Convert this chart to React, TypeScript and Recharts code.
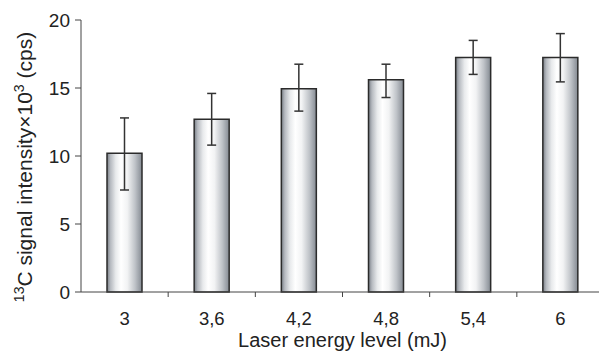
import { BarChart, Bar, XAxis, YAxis, ErrorBar } from 'recharts'

const energies = ['3', '3,6', '4,2', '4,8', '5,4', '6']
const intensity = [10.2, 12.7, 14.95, 15.6, 17.25, 17.25]
const lowerBound = [7.5, 10.8, 13.3, 14.3, 16.0, 15.45]
const upperBound = [12.8, 14.6, 16.75, 16.75, 18.5, 19.0]
const yTicks = [0, 5, 10, 15, 20]

const data = energies.map((energy, i) => ({
  energy,
  intensity: intensity[i],
  err: [intensity[i] - lowerBound[i], upperBound[i] - intensity[i]],
}))

const FONT = 'Liberation Sans, Arial, Helvetica, sans-serif'
const AXIS = '#444'
const TEXT = '#222'
const X_TICK_GAP = 20

// category labels sit at band centres, tick marks go on band boundaries
function EnergyTick(props: any) {
  const { x, y, payload, width, visibleTicksCount, index } = props
  const half = payload?.offset || width / visibleTicksCount / 2
  const axisY = y - X_TICK_GAP
  const last = index === visibleTicksCount - 1
  return (
    <g>
      {!last && (
        <line x1={x + half} x2={x + half} y1={axisY} y2={axisY + 5} stroke={AXIS} strokeWidth={1} />
      )}
      <text x={x} y={y} dy="0.71em" textAnchor="middle" fontSize={18.5} fill={TEXT} fontFamily={FONT}>
        {payload.value}
      </text>
    </g>
  )
}

function YTitle({ viewBox }: any) {
  const cx = 32
  const cy = viewBox.y + viewBox.height / 2 + 11
  return (
    <text
      x={cx}
      y={cy}
      transform={`rotate(-90, ${cx}, ${cy})`}
      textAnchor="middle"
      fontSize={21}
      fill={TEXT}
      fontFamily={FONT}
    >
      <tspan fontSize={14} dy={-8}>13</tspan>
      <tspan dy={8}>C signal intensity×10</tspan>
      <tspan fontSize={14} dy={-8}>3</tspan>
      <tspan dy={8}>{' (cps)'}</tspan>
    </text>
  )
}

export default function App() {
  return (
    <div style={{ position: 'fixed', left: 0, top: 0, background: '#fff' }}>
      <BarChart width={605} height={356} data={data} margin={{ top: 20, right: 1, bottom: 4, left: 0 }}>
        <defs>
          <linearGradient id="barFill" x1="0" y1="0" x2="1" y2="0">
            <stop offset="0%" stopColor="#787e86" />
            <stop offset="10%" stopColor="#b6bac0" />
            <stop offset="25%" stopColor="#e8eaec" />
            <stop offset="40%" stopColor="#ffffff" />
            <stop offset="58%" stopColor="#f2f3f4" />
            <stop offset="80%" stopColor="#bfc3c8" />
            <stop offset="100%" stopColor="#848a92" />
          </linearGradient>
        </defs>
        <XAxis
          dataKey="energy"
          height={60}
          tickSize={0}
          tickMargin={X_TICK_GAP}
          tickLine={false}
          axisLine={{ stroke: AXIS }}
          tick={<EnergyTick />}
          interval={0}
          label={{
            value: 'Laser energy level (mJ)',
            position: 'insideBottom',
            offset: 5,
            fontSize: 20,
            fill: TEXT,
            fontFamily: FONT,
          }}
        />
        <YAxis
          width={81}
          domain={[0, 20]}
          ticks={yTicks}
          tickSize={6}
          tickMargin={5}
          axisLine={{ stroke: AXIS }}
          tickLine={{ stroke: AXIS }}
          tick={{ fontSize: 19, fill: TEXT, fontFamily: FONT }}
          label={(props: any) => <YTitle {...props} />}
        />
        <Bar
          dataKey="intensity"
          barSize={35}
          fill="url(#barFill)"
          stroke="#2b2b2b"
          strokeWidth={1.5}
          isAnimationActive={false}
        >
          <ErrorBar dataKey="err" width={4.5} stroke="#333" strokeWidth={1.5} direction="y" />
        </Bar>
      </BarChart>
    </div>
  )
}
